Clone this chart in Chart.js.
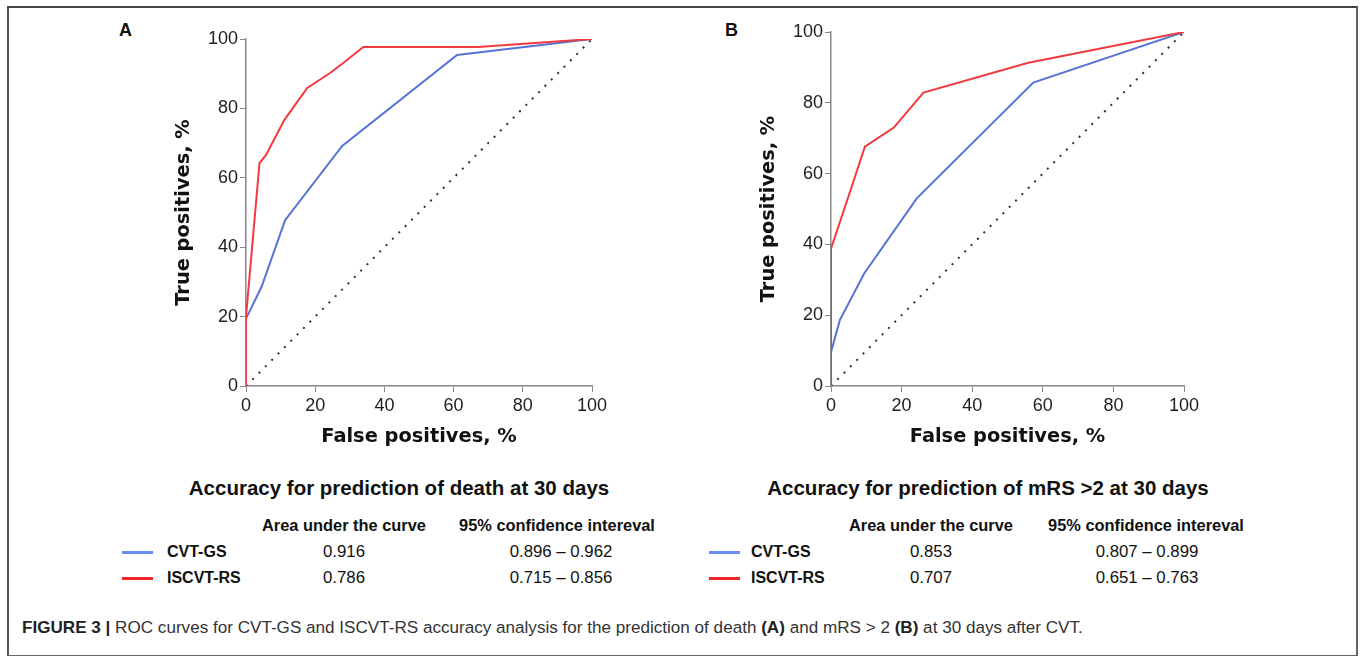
<!DOCTYPE html>
<html>
<head>
<meta charset="utf-8">
<script src="https://cdn.jsdelivr.net/npm/chart.js@4.4.1/dist/chart.umd.min.js"></script>
<style>
body { margin: 0; background: #fff; width: 1362px; height: 656px; position: relative; overflow: hidden; font-family: "Liberation Sans", Arial, sans-serif; color: #111; }
#frame { position: absolute; left: 7px; top: 6px; width: 1347px; height: 647px; border: 2px solid #666; border-top-color: #444; border-left-color: #555; }
.abs { position: absolute; white-space: nowrap; }
.panel { font-weight: bold; font-size: 18px; }
.title { font-weight: bold; font-size: 20.5px; transform: translateX(-50%); }
.hdr { font-weight: bold; font-size: 16.4px; transform: translateX(-50%); }
.val { font-size: 16.8px; transform: translateX(-50%); }
.lab { font-weight: bold; font-size: 16px; }
.swatch { position: absolute; height: 3px; width: 31px; }
#caption { left: 22px; top: 618px; font-size: 17.1px; color: #333; }
#caption b { color: #222; }
</style>
</head>
<body>
<div id="frame"></div>

<div class="abs panel" style="left:119px; top:20px;">A</div>
<div class="abs panel" style="left:725px; top:20px;">B</div>

<canvas id="rocA" class="abs" style="left:150px; top:15px;" width="467" height="441"></canvas>
<canvas id="rocB" class="abs" style="left:735px; top:8px;" width="474" height="448"></canvas>

<div class="abs title" style="left:399px; top:476px;">Accuracy for prediction of death at 30 days</div>
<div class="abs hdr" style="left:344px; top:516px;">Area under the curve</div>
<div class="abs hdr" style="left:557px; top:516px;">95% confidence intereval</div>
<div class="swatch" style="left:122px; top:551px; background:#6a8cf0;"></div>
<div class="swatch" style="left:122px; top:577px; background:#ee2626;"></div>
<div class="abs lab" style="left:167px; top:543px;">CVT-GS</div>
<div class="abs lab" style="left:167px; top:569px;">ISCVT-RS</div>
<div class="abs val" style="left:344px; top:542px;">0.916</div>
<div class="abs val" style="left:561px; top:542px;">0.896 – 0.962</div>
<div class="abs val" style="left:344px; top:568px;">0.786</div>
<div class="abs val" style="left:561px; top:568px;">0.715 – 0.856</div>

<div class="abs title" style="left:988px; top:476px;">Accuracy for prediction of mRS &gt;2 at 30 days</div>
<div class="abs hdr" style="left:931px; top:516px;">Area under the curve</div>
<div class="abs hdr" style="left:1146px; top:516px;">95% confidence intereval</div>
<div class="swatch" style="left:709px; top:551px; background:#6a8cf0;"></div>
<div class="swatch" style="left:709px; top:577px; background:#ee2626;"></div>
<div class="abs lab" style="left:751px; top:543px;">CVT-GS</div>
<div class="abs lab" style="left:751px; top:569px;">ISCVT-RS</div>
<div class="abs val" style="left:931px; top:542px;">0.853</div>
<div class="abs val" style="left:1147px; top:542px;">0.807 – 0.899</div>
<div class="abs val" style="left:931px; top:568px;">0.707</div>
<div class="abs val" style="left:1147px; top:568px;">0.651 – 0.763</div>

<div id="caption" class="abs"><b>FIGURE 3 |</b> ROC curves for CVT-GS and ISCVT-RS accuracy analysis for the prediction of death <b>(A)</b> and mRS &gt; 2 <b>(B)</b> at 30 days after CVT.</div>

<script>
// panel A - death at 30 days
var deathGsFp = [0, 0, 4.5, 11.3, 27.8, 61, 100];
var deathGsTp = [0, 19.4, 28.6, 47.8, 69.2, 95.4, 100];
var deathRsFp = [0, 0, 3.9, 5.8, 11.1, 17.7, 24.3, 28.1, 33.9, 67.1, 100];
var deathRsTp = [0, 20, 64.2, 66.6, 76.7, 85.9, 90.2, 93.1, 97.7, 97.7, 100];
// panel B - mRS >2 at 30 days
var mrsGsFp = [0, 0, 2.5, 9.4, 24.3, 57.3, 100];
var mrsGsTp = [0, 9.6, 18.6, 31.8, 53, 85.7, 100];
var mrsRsFp = [0, 0, 4.9, 9.6, 17.8, 26.2, 55.9, 100];
var mrsRsTp = [0, 38.8, 53.4, 67.6, 73, 82.9, 91.3, 100];
// chance line
var chanceFp = [0, 100];
var chanceTp = [0, 100];
var axisTicks = [0, 20, 40, 60, 80, 100];

var blue = "#5573d6";
var red = "#f23a3e";

function pts(xs, ys) {
  return xs.map(function (x, i) { return { x: x, y: ys[i] }; });
}

function rocChart(id, gsFp, gsTp, rsFp, rsTp) {
  var axisTitleFont = { family: "DejaVu Sans", weight: "bold", size: 19.4 };
  var tickFont = { family: "Liberation Sans", size: 18 };
  // first dataset is drawn on top
  return new Chart(document.getElementById(id), {
    type: "scatter",
    data: {
      datasets: [
        { label: "ISCVT-RS", data: pts(rsFp, rsTp), borderColor: red, borderWidth: 2, showLine: true, pointRadius: 0, tension: 0 },
        { label: "CVT-GS", data: pts(gsFp, gsTp), borderColor: blue, borderWidth: 2, showLine: true, pointRadius: 0, tension: 0 },
        { data: pts(chanceFp, chanceTp), borderColor: "#333", borderWidth: 2, borderDash: [2, 7], showLine: true, pointRadius: 0 }
      ]
    },
    options: {
      responsive: false,
      animation: false,
      events: [],
      layout: { padding: { top: 24, right: 25, left: 0, bottom: 0 } },
      plugins: { legend: { display: false }, tooltip: { enabled: false } },
      scales: {
        x: {
          type: "linear", min: 0, max: 100,
          afterBuildTicks: function (s) { s.ticks = axisTicks.map(function (v) { return { value: v }; }); },
          afterFit: function (s) { s.height = 70; },
          grid: { drawOnChartArea: false, color: "#888", tickLength: 6 },
          border: { color: "#888", width: 1.5 },
          ticks: { color: "#222", font: tickFont, padding: 3, maxRotation: 0 },
          title: { display: true, text: "False positives, %", color: "#111", font: axisTitleFont, padding: { top: 0, bottom: 7 } }
        },
        y: {
          type: "linear", min: 0, max: 100,
          afterBuildTicks: function (s) { s.ticks = axisTicks.map(function (v) { return { value: v }; }); },
          afterFit: function (s) { s.width = 96; },
          grid: { drawOnChartArea: false, color: "#888", tickLength: 6 },
          border: { color: "#888", width: 1.5 },
          ticks: { color: "#222", font: tickFont, padding: 2 },
          title: { display: true, text: "True positives, %", color: "#111", font: axisTitleFont, padding: { top: 22, bottom: 0 } }
        }
      }
    }
  });
}

rocChart("rocA", deathGsFp, deathGsTp, deathRsFp, deathRsTp);
rocChart("rocB", mrsGsFp, mrsGsTp, mrsRsFp, mrsRsTp);
</script>
</body>
</html>
